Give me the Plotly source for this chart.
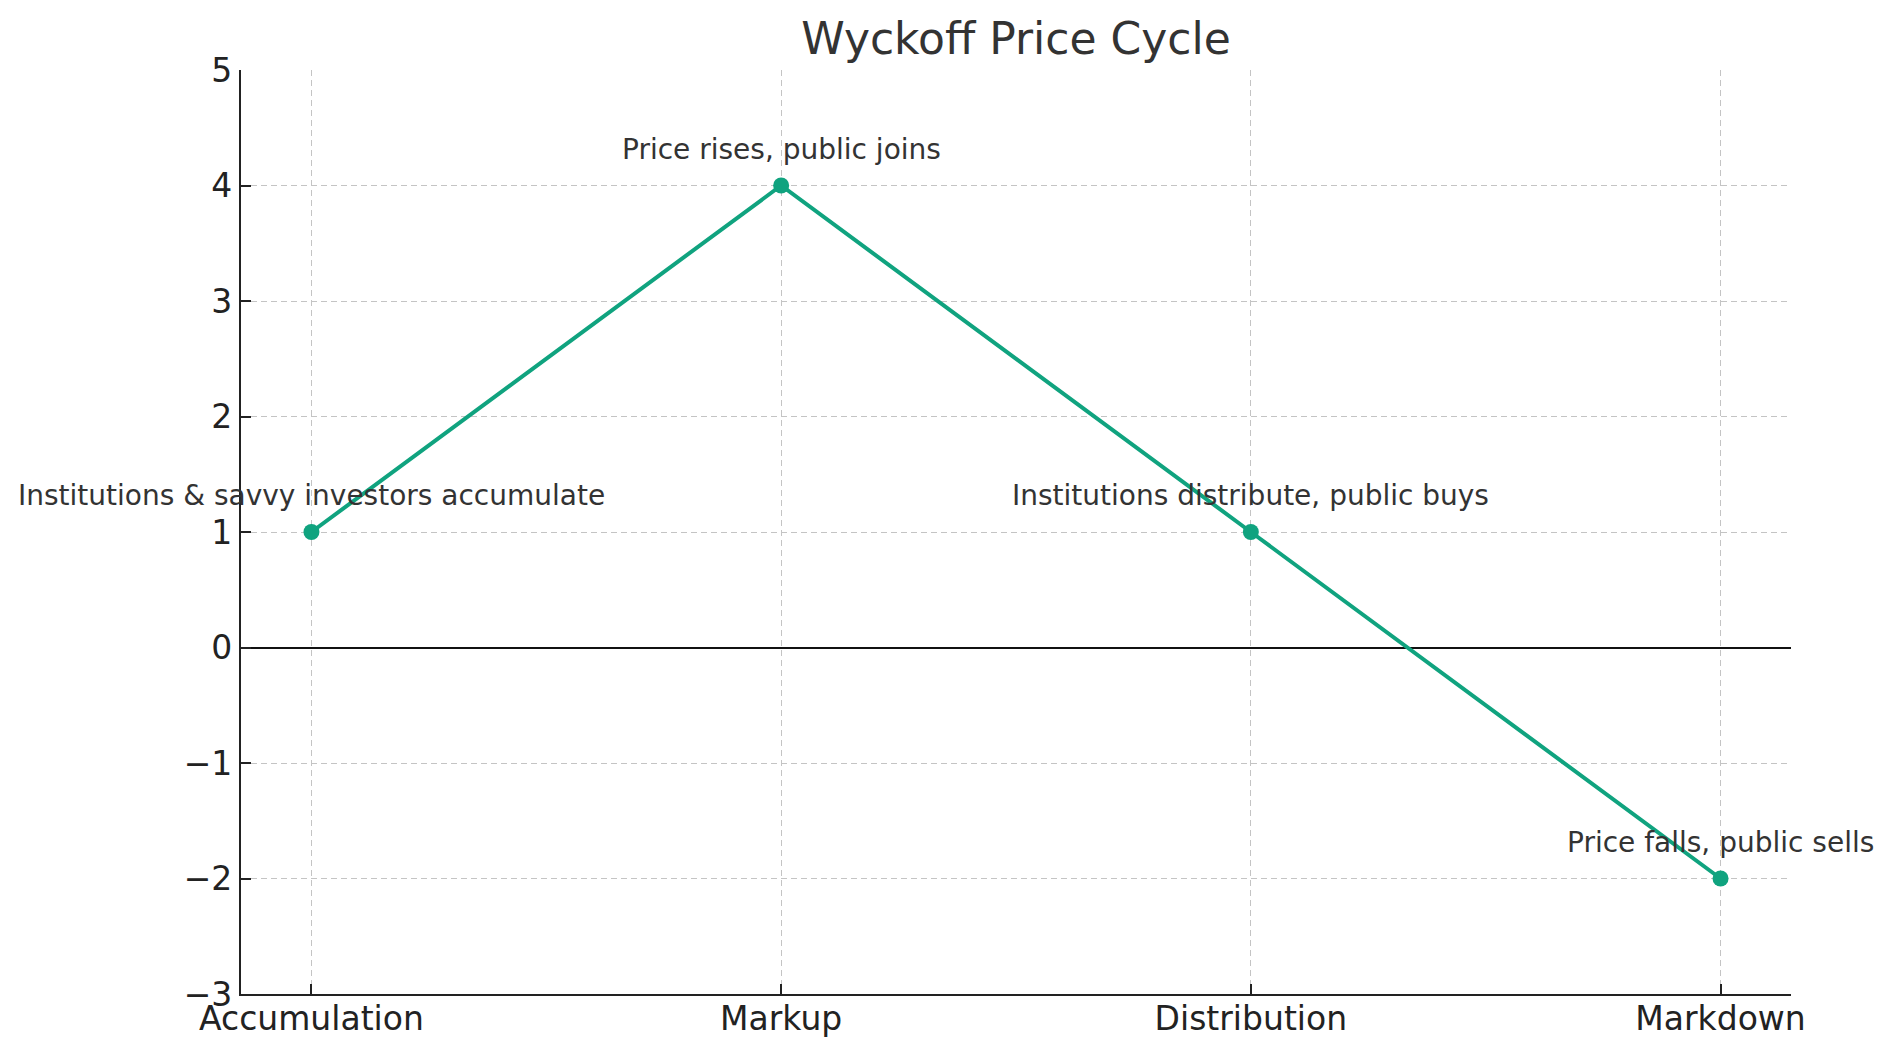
import plotly.graph_objects as go

phases = ["Accumulation", "Markup", "Distribution", "Markdown"]
prices = [1, 4, 1, -2]
notes = [
    "Institutions & savvy investors accumulate",
    "Price rises, public joins",
    "Institutions distribute, public buys",
    "Price falls, public sells",
]
y_ticks = [-3, -2, -1, 0, 1, 2, 3, 4, 5]

GREEN = "#10A37F"
FONT = "DejaVu Sans"

fig = go.Figure()
fig.add_trace(go.Scatter(
    x=list(range(len(phases))), y=prices, mode="lines+markers",
    line=dict(color=GREEN, width=4),
    marker=dict(color=GREEN, size=16),
    cliponaxis=False, showlegend=False,
))

for i, (p, n) in enumerate(zip(prices, notes)):
    fig.add_annotation(
        x=i, y=p, xref="x", yref="y", text=n, showarrow=False,
        yanchor="bottom", xanchor="center", yshift=18,
        font=dict(family=FONT, size=28, color="#333333"),
    )

fig.update_layout(
    width=1892, height=1057,
    margin=dict(l=241, r=101, t=70, b=63),
    paper_bgcolor="white", plot_bgcolor="white",
    title=dict(
        text="Wyckoff Price Cycle", x=(241 + 1791) / 2 / 1892, xanchor="center",
        y=1 - 39 / 1057, yanchor="middle", yref="container",
        font=dict(family=FONT, size=44, color="#333333"),
    ),
    font=dict(family=FONT, color="#222222"),
)

fig.update_xaxes(
    range=[-0.15, 3.15], tickvals=list(range(len(phases))), ticktext=phases,
    showgrid=True, gridcolor="#c4c4c4", gridwidth=1.3, griddash="6px,4px",
    showline=True, linecolor="#222222", linewidth=2.2, mirror=False,
    ticks="inside", ticklen=10, tickwidth=2, tickcolor="#222222",
    tickfont=dict(family=FONT, size=33, color="#222222"),
    ticklabelstandoff=-6,
    zeroline=False,
)
fig.update_yaxes(
    range=[-3, 5], tickvals=y_ticks,
    showgrid=True, gridcolor="#c4c4c4", gridwidth=1.3, griddash="6px,4px",
    showline=True, linecolor="#222222", linewidth=2.2, mirror=False,
    ticks="inside", ticklen=10, tickwidth=2, tickcolor="#222222",
    tickfont=dict(family=FONT, size=33, color="#222222"),
    zeroline=True, zerolinecolor="#111111", zerolinewidth=2,
)

fig.write_html("out.html")
